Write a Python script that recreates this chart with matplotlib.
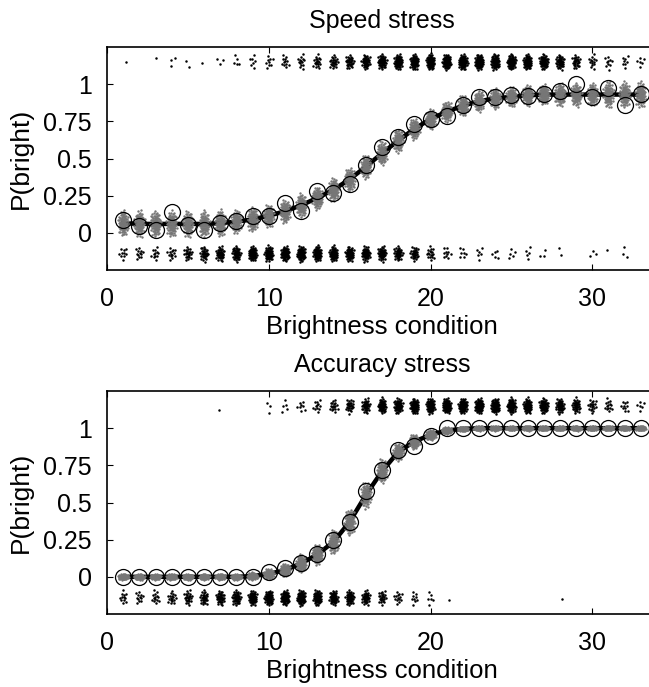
import numpy as np
import matplotlib
matplotlib.use('Agg')
import matplotlib.pyplot as plt

plt.rcParams['font.family'] = ['Liberation Sans', 'DejaVu Sans']

# brightness conditions 1..33
conditions = np.arange(1, 34)

# speed stress: observed proportions (circles) and fitted curve
speed_obs = [0.089, 0.049, 0.022, 0.14, 0.053, 0.022, 0.067, 0.078, 0.111, 0.115,
             0.20, 0.144, 0.282, 0.267, 0.329, 0.455, 0.578, 0.644, 0.733, 0.767,
             0.789, 0.862, 0.911, 0.911, 0.929, 0.922, 0.933, 0.955, 1.0, 0.915,
             0.973, 0.86, 0.933]
speed_fit = [0.065, 0.06, 0.06, 0.06, 0.06, 0.06, 0.065, 0.075, 0.09, 0.115,
             0.145, 0.185, 0.235, 0.29, 0.36, 0.445, 0.535, 0.62, 0.70, 0.765,
             0.815, 0.855, 0.885, 0.905, 0.915, 0.925, 0.93, 0.93, 0.93, 0.93,
             0.93, 0.93, 0.93]
# raw responses per condition (bright row on top, dark row at bottom)
speed_n_bright = [1, 0, 1, 3, 2, 1, 3, 5, 7, 9, 12, 14, 20, 26, 32, 45, 55, 62, 68, 72,
                  75, 76, 75, 72, 70, 66, 60, 45, 28, 14, 10, 8, 6]
speed_n_dark = [10, 12, 12, 14, 24, 35, 42, 50, 58, 62, 65, 65, 65, 62, 58, 52, 45, 40, 32, 18,
                10, 7, 6, 5, 5, 5, 3, 2, 0, 3, 1, 3, 0]
# spread of the posterior predictive samples (grey)
speed_spread = [0.045, 0.045, 0.045, 0.045, 0.045, 0.045, 0.045, 0.04, 0.04, 0.04,
                0.04, 0.04, 0.04, 0.04, 0.04, 0.04, 0.04, 0.04, 0.035, 0.035,
                0.035, 0.035, 0.035, 0.035, 0.035, 0.035, 0.035, 0.04, 0.04, 0.04,
                0.045, 0.045, 0.045]

# accuracy stress
acc_obs = [0, 0, 0, 0, 0, 0, 0, 0, 0, 0.035,
           0.06, 0.09, 0.155, 0.245, 0.37, 0.58, 0.72, 0.855, 0.88, 0.945,
           1, 1, 1, 1, 1, 1, 1, 1, 1, 1, 1, 1, 1]
acc_fit = [0, 0, 0, 0, 0, 0, 0, 0, 0.005, 0.02,
           0.045, 0.09, 0.15, 0.235, 0.37, 0.55, 0.71, 0.84, 0.91, 0.955,
           0.985, 0.995, 1, 1, 1, 1, 1, 1, 1, 1, 1, 1, 1]
acc_n_bright = [0, 0, 0, 0, 0, 0, 1, 0, 0, 3, 5, 8, 12, 18, 26, 40, 52, 60, 66, 70,
                72, 72, 72, 70, 68, 65, 60, 50, 38, 20, 14, 10, 6]
acc_n_dark = [12, 12, 14, 18, 26, 32, 40, 48, 55, 60, 65, 65, 62, 56, 48, 36, 24, 14, 9, 6,
              1, 0, 0, 0, 0, 0, 0, 1, 0, 0, 0, 0, 0]
acc_spread = [0.01, 0.01, 0.01, 0.01, 0.01, 0.01, 0.01, 0.01, 0.012, 0.018,
              0.022, 0.03, 0.035, 0.04, 0.045, 0.045, 0.04, 0.03, 0.025, 0.018,
              0.012, 0.008, 0.008, 0.008, 0.008, 0.008, 0.008, 0.008, 0.008, 0.008,
              0.008, 0.008, 0.008]

N_SAMPLES = 90
ROW_BRIGHT = 1.15
ROW_DARK = -0.14


def blob(n, cx, cy, sx, sy, phase):
    # sunflower layout, stretched so it gets denser in the middle
    j = np.arange(n)
    r = np.sqrt((j + 0.5) / max(n, 1))
    r = np.sqrt(-2 * np.log(1 - 0.9 * r ** 2))
    th = j * 2.39996 + phase
    return cx + sx * r * np.cos(th), cy + sy * r * np.sin(th)


def draw_panel(ax, title, obs, fit, n_bright, n_dark, spread):
    ax.plot(conditions, fit, color='black', lw=3.2, zorder=2)

    gx, gy, bx, by = [], [], [], []
    for i, c in enumerate(conditions):
        x, y = blob(N_SAMPLES, c, fit[i], 0.17, spread[i], i * 1.3)
        gx.append(x); gy.append(y)
        x, y = blob(n_bright[i], c, ROW_BRIGHT, 0.14, 0.027, i * 0.7)
        bx.append(x); by.append(y)
        x, y = blob(n_dark[i], c, ROW_DARK, 0.14, 0.027, i * 0.9 + 0.4)
        bx.append(x); by.append(y)
    ax.scatter(np.concatenate(gx), np.concatenate(gy), s=3, color='#767676',
               linewidths=0, zorder=3)
    ax.scatter(np.concatenate(bx), np.concatenate(by), s=3.2, color='black',
               linewidths=0, zorder=3)

    ax.plot(conditions, obs, 'o', ms=11.5, mfc='none', mec='black', mew=0.9, zorder=4)

    ax.set_xlim(0, 34)
    ax.set_ylim(-0.25, 1.25)
    ax.set_xticks([0, 10, 20, 30])
    ax.set_yticks([0, 0.25, 0.5, 0.75, 1])
    ax.set_yticklabels(['0', '0.25', '0.5', '0.75', '1'])
    ax.tick_params(direction='in', length=4, width=0.8, top=True, right=True,
                   pad=12, labelsize=18)
    ax.tick_params(axis='y', pad=11)
    for sp in ax.spines.values():
        sp.set_linewidth(1.2)

    ax.set_title(title, fontsize=18, pad=14)
    ax.set_xlabel('Brightness condition', fontsize=18.5, va='center')
    ax.xaxis.set_label_coords(0.5, -0.256)
    ax.set_ylabel('P(bright)', fontsize=19,
                  rotation=90, rotation_mode='default', ha='center', va='center')
    ax.yaxis.set_label_coords(-0.156, 0.5)


fig = plt.figure(figsize=(6.49, 6.87), dpi=100)
ax1 = fig.add_axes([107 / 649, 1 - 270 / 687, 550 / 649, 223 / 687])
ax2 = fig.add_axes([107 / 649, 1 - 614 / 687, 550 / 649, 223 / 687])

draw_panel(ax1, 'Speed stress', speed_obs, speed_fit, speed_n_bright, speed_n_dark, speed_spread)
draw_panel(ax2, 'Accuracy stress', acc_obs, acc_fit, acc_n_bright, acc_n_dark, acc_spread)

fig.savefig('out.png', dpi=100)
